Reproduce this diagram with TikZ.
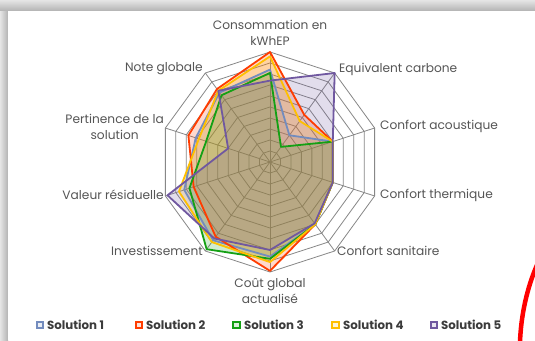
\documentclass[tikz,border=0pt]{standalone}
\usepackage{fontspec}
\setmainfont{Poppins}
\definecolor{txt}{RGB}{85,85,85}
\definecolor{gridc}{RGB}{135,135,135}
\definecolor{sA}{RGB}{115,140,190}
\definecolor{sB}{RGB}{255,60,0}
\definecolor{sC}{RGB}{20,160,20}
\definecolor{sD}{RGB}{255,192,0}
\definecolor{sE}{RGB}{112,88,160}
\tikzset{
  gridline/.style={draw=gridc, line width=0.8pt},
  serfill/.style={fill=#1, fill opacity=0.2},
  serline/.style={draw=#1, line width=1.8pt, line join=round},
  axlabel/.style={text=txt, font=\fontsize{12.2}{16.5}\selectfont, inner sep=0pt, align=center},
  legsq/.style={draw=#1, fill=#1!15, line width=1.6pt, minimum size=6.5pt, inner sep=0pt},
  legtxt/.style={text=txt!70!black, font=\bfseries\fontsize{11.8}{13}\selectfont, inner sep=0pt, anchor=west}
}
\begin{document}
\begin{tikzpicture}[x=1pt,y=1pt]
\useasboundingbox (0,0) rectangle (535,340);
% shadow and panel
\shade[left color=gray!20, right color=gray!60] (0,0) rectangle (8,340);
\shade[top color=gray!20, bottom color=gray!60] (0,329) rectangle (535,340);
\fill[white] (8,0) rectangle (535,329);
\coordinate (c) at (270,178);
\begin{scope}[shift={(270pt,178pt)}, x=11pt, y=11pt]
  % grid
  \foreach \r in {1,...,10}
    \draw[gridline] (90:\r) -- (54:\r) -- (18:\r) -- (-18:\r) -- (-54:\r) -- (-90:\r) -- (-126:\r) -- (-162:\r) -- (162:\r) -- (126:\r) -- cycle;
  \foreach \a in {90,54,...,-234}
    \draw[gridline] (0,0) -- (\a:10);
  % fills
  \fill[serfill=sA] (90:8.4) -- (54:3.0) -- (18:6) -- (-18:6) -- (-54:7) -- (-90:8.6) -- (-126:8.8) -- (-162:8.2) -- (162:7.1) -- (126:7.8) -- cycle;
  \fill[serfill=sB] (90:10) -- (54:5.3) -- (18:6) -- (-18:6) -- (-54:7) -- (-90:9.9) -- (-126:8.4) -- (-162:7.3) -- (162:7.8) -- (126:8.2) -- cycle;
  \fill[serfill=sC] (90:8.1) -- (54:1.7) -- (18:6) -- (-18:6) -- (-54:7) -- (-90:8.8) -- (-126:9.8) -- (-162:7.7) -- (162:6.1) -- (126:7.5) -- cycle;
  \fill[serfill=sD] (90:9.6) -- (54:4.6) -- (18:6) -- (-18:6) -- (-54:7) -- (-90:9.1) -- (-126:9.0) -- (-162:8.7) -- (162:6.8) -- (126:8) -- cycle;
  \fill[serfill=sE] (90:7.4) -- (54:10) -- (18:6) -- (-18:6) -- (-54:6.9) -- (-90:8.0) -- (-126:8.6) -- (-162:9.8) -- (162:4.0) -- (126:8) -- cycle;
  % lines
  \draw[serline=sA] (90:8.4) -- (54:3.0) -- (18:6) -- (-18:6) -- (-54:7) -- (-90:8.6) -- (-126:8.8) -- (-162:8.2) -- (162:7.1) -- (126:7.8) -- cycle;
  \draw[serline=sB] (90:10) -- (54:5.3) -- (18:6) -- (-18:6) -- (-54:7) -- (-90:9.9) -- (-126:8.4) -- (-162:7.3) -- (162:7.8) -- (126:8.2) -- cycle;
  \draw[serline=sC] (90:8.1) -- (54:1.7) -- (18:6) -- (-18:6) -- (-54:7) -- (-90:8.8) -- (-126:9.8) -- (-162:7.7) -- (162:6.1) -- (126:7.5) -- cycle;
  \draw[serline=sD] (90:9.6) -- (54:4.6) -- (18:6) -- (-18:6) -- (-54:7) -- (-90:9.1) -- (-126:9.0) -- (-162:8.7) -- (162:6.8) -- (126:8) -- cycle;
  \draw[serline=sE] (90:7.4) -- (54:10) -- (18:6) -- (-18:6) -- (-54:6.9) -- (-90:8.0) -- (-126:8.6) -- (-162:9.8) -- (162:4.0) -- (126:8) -- cycle;
\end{scope}
% axis labels
\node[axlabel] (l0) at (270,307) {Consommation en\\kWhEP};
\node[axlabel, anchor=west] (l1) at (339,271) {Equivalent carbone};
\node[axlabel, anchor=west] (l2) at (380,214) {Confort acoustique};
\node[axlabel, anchor=west] (l3) at (380,145) {Confort thermique};
\node[axlabel, anchor=west] (l4) at (337,89) {Confort sanitaire};
\node[axlabel] (l5) at (270,49) {Coût global\\actualisé};
\node[axlabel, anchor=east] (l6) at (203,89) {Investissement};
\node[axlabel, anchor=east] (l7) at (164,145) {Valeur résiduelle};
\node[axlabel, anchor=east] (l8) at (164,213) {Pertinence de la\\solution};
\node[axlabel, anchor=east] (l9) at (203,271) {Note globale};
% legend
\node[legsq=sA] (q1) at (40,15) {};
\node[legtxt] (t1) at (47,15) {Solution 1};
\node[legsq=sB] (q2) at (139,15) {};
\node[legtxt] (t2) at (146,15) {Solution 2};
\node[legsq=sC] (q3) at (236.5,15) {};
\node[legtxt] (t3) at (244,15) {Solution 3};
\node[legsq=sD] (q4) at (335.5,15) {};
\node[legtxt] (t4) at (343,15) {Solution 4};
\node[legsq=sE] (q5) at (434,15) {};
\node[legtxt] (t5) at (441,15) {Solution 5};
% red highlight arc
\coordinate (arcA) at (537,75);
\coordinate (arcB) at (520,-2);
\draw[red, line width=4.5pt] (arcA) .. controls (527,52) and (521,25) .. (arcB);
\end{tikzpicture}
\end{document}
